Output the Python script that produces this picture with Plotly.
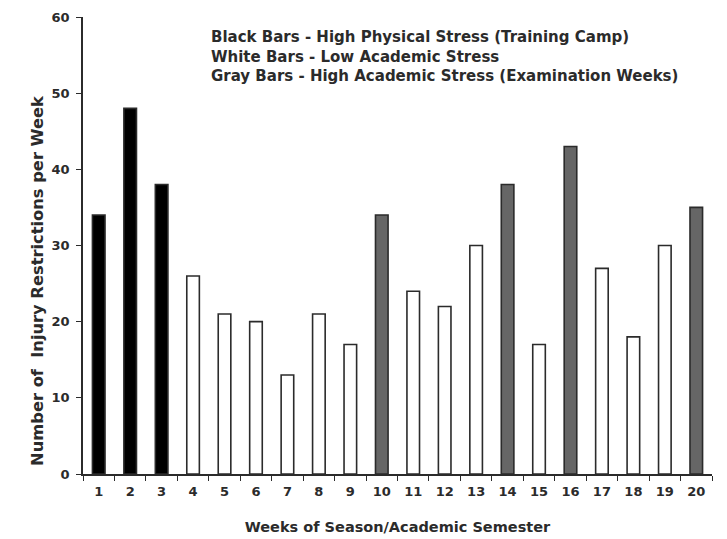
import plotly.graph_objects as go

# Weekly injury restrictions over a season / academic semester
weeks = [str(w) for w in range(1, 21)]
injuries = [34, 48, 38, 26, 21, 20, 13, 21, 17, 34, 24, 22, 30, 38, 17, 43, 27, 18, 30, 35]
# period per week: P = training camp, L = low academic stress, E = examination week
period = ["P", "P", "P", "L", "L", "L", "L", "L", "L", "E",
          "L", "L", "L", "E", "L", "E", "L", "L", "L", "E"]

fill_for = {"P": "#000000", "L": "#ffffff", "E": "#666666"}
bar_colors = [fill_for[p] for p in period]

font_family = "DejaVu Sans, Verdana, sans-serif"
ink = "#2b2b2b"

fig = go.Figure(
    go.Bar(
        x=weeks,
        y=injuries,
        marker=dict(color=bar_colors, line=dict(color=ink, width=1.6)),
        width=0.4,
        showlegend=False,
    )
)

legend_text = (
    "<b>Black Bars - High Physical Stress (Training Camp)</b><br>"
    "<b>White Bars - Low Academic Stress</b><br>"
    "<b>Gray Bars - High Academic Stress (Examination Weeks)</b>"
)
fig.add_annotation(
    text=legend_text,
    xref="paper", yref="paper",
    x=0.2, y=0.98,
    xanchor="left", yanchor="top",
    align="left",
    showarrow=False,
    font=dict(family=font_family, size=15, color=ink),
)

# y-axis title placed slightly below the vertical middle of the plot
fig.add_annotation(
    text="<b>Number of  Injury Restrictions per Week</b>",
    xref="paper", yref="paper",
    x=-0.072, y=0.424,
    xanchor="center", yanchor="middle",
    textangle=-90,
    showarrow=False,
    font=dict(family=font_family, size=16.3, color=ink),
)

fig.update_layout(
    width=727,
    height=539,
    margin=dict(l=83, r=15, t=17, b=65),
    paper_bgcolor="white",
    plot_bgcolor="white",
    bargap=0.6,
    font=dict(family=font_family, color=ink),
    xaxis=dict(
        type="category",
        automargin=False,
        tickson="boundaries",
        ticks="outside",
        ticklen=5,
        tickcolor=ink,
        showline=True,
        linecolor=ink,
        linewidth=1.5,
        showgrid=False,
        ticklabelstandoff=5,
        tickfont=dict(size=13, family=font_family, color=ink, weight="bold"),
        title=dict(
            text="<b>Weeks of Season/Academic Semester</b>",
            font=dict(size=14.5, family=font_family, color=ink),
            standoff=24,
        ),
    ),
    yaxis=dict(
        range=[0, 60],
        automargin=False,
        tickvals=[0, 10, 20, 30, 40, 50, 60],
        ticks="outside",
        ticklen=5,
        tickcolor=ink,
        showline=True,
        linecolor=ink,
        linewidth=1.5,
        showgrid=False,
        zeroline=False,
        ticklabelstandoff=4,
        tickfont=dict(size=13, family=font_family, color=ink, weight="bold"),
    ),
)

fig.write_html("out.html")
